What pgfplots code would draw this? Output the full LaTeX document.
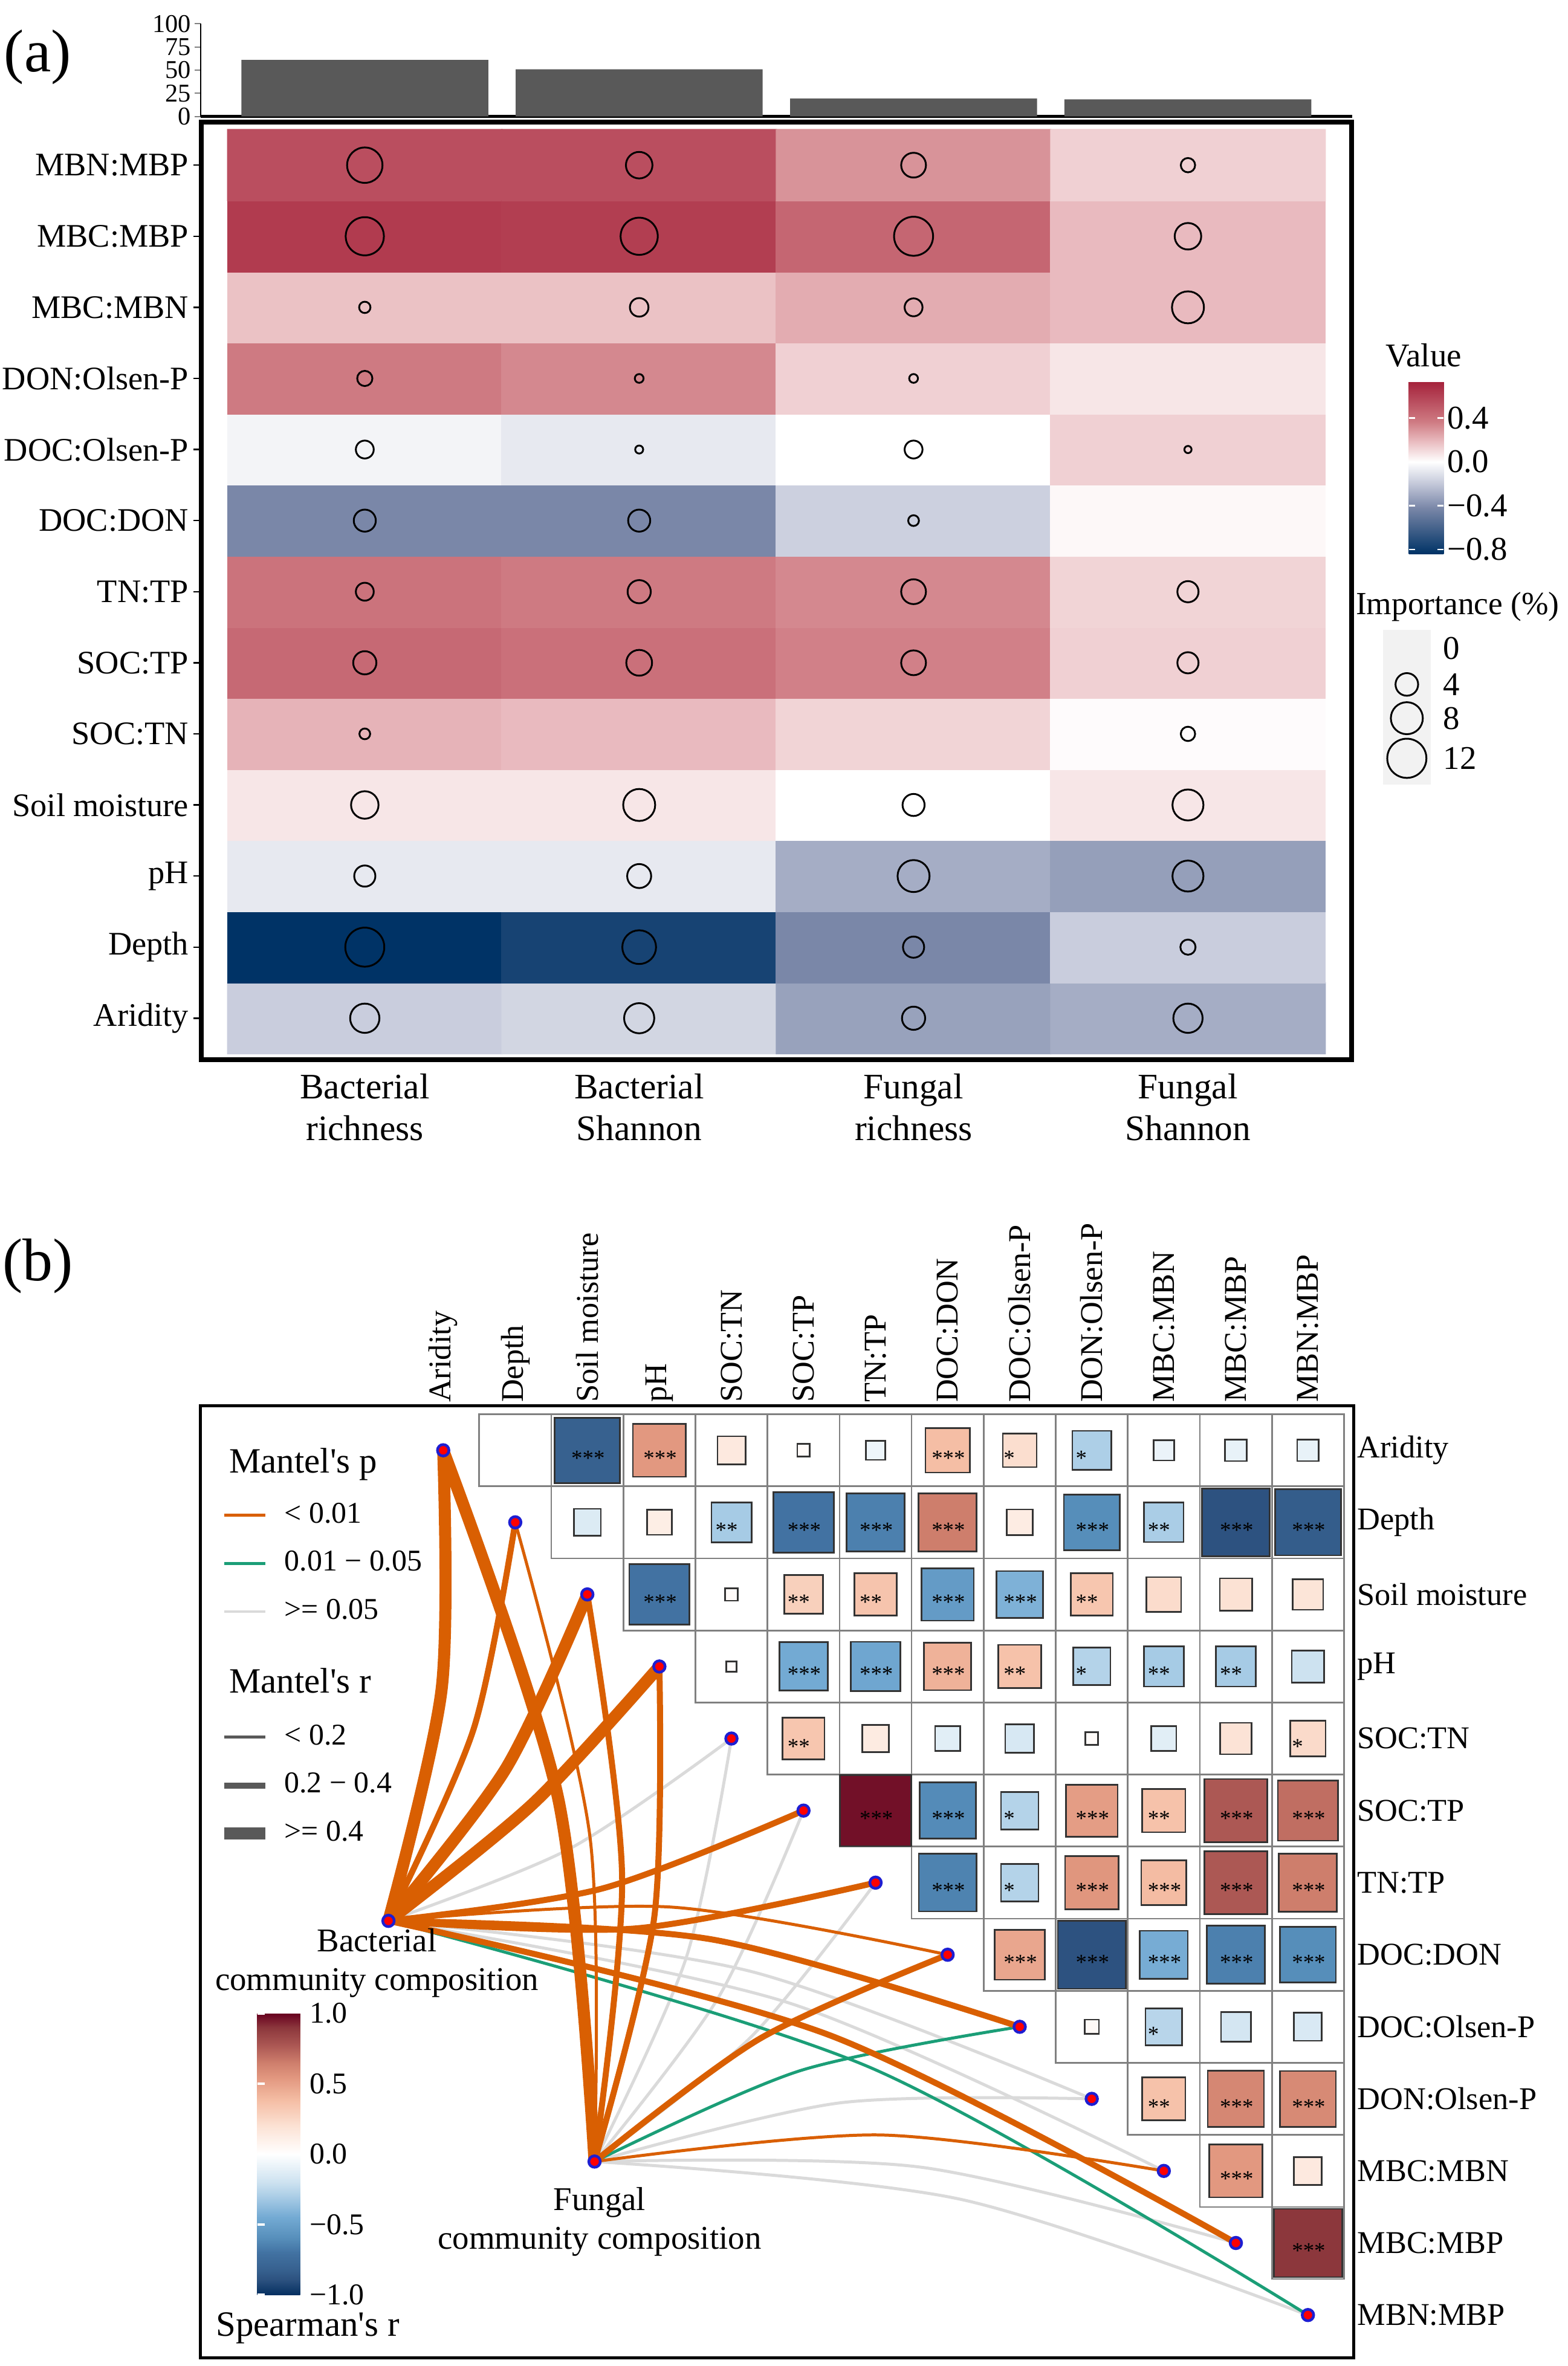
\documentclass[border=0pt]{standalone}
\usepackage{fontspec}
\setmainfont{Liberation Serif}
\usepackage{pgfplots}
\pgfplotsset{compat=1.18}
\usepackage{pgfplotstable}

\definecolor{barfill}{RGB}{89,89,89}
\definecolor{morange}{RGB}{217,95,2}
\definecolor{mgreen}{RGB}{27,158,119}
\definecolor{mgray}{RGB}{218,218,218}
\definecolor{nodeblue}{RGB}{30,30,210}
\definecolor{cellgray}{RGB}{128,128,128}
\definecolor{legbox}{RGB}{242,242,242}

\newcommand\fA{\fontsize{10.9}{12}\selectfont}
\newcommand\fX{\fontsize{11.9}{14}\selectfont}
\newcommand\fT{\fontsize{8.5}{8.5}\selectfont}
\newcommand\fL{\fontsize{11}{13}\selectfont}
\newcommand\fI{\fontsize{10.7}{13}\selectfont}
\newcommand\fB{\fontsize{10.5}{12}\selectfont}
\newcommand\fS{\fontsize{7.4}{8}\selectfont}
\newcommand\fM{\fontsize{11.8}{13}\selectfont}
\newcommand\fE{\fontsize{10}{12}\selectfont}
\newcommand\fC{\fontsize{11}{12.8}\selectfont}
\newcommand\fP{\fontsize{20}{22}\selectfont}

\pgfplotsset{
  /pgf/number format/assume math mode=true,
  edge/.style={smooth, no marks, line cap=butt},
  eGray/.style={edge, mgray, line width=1pt},
  eGreen/.style={edge, mgreen, line width=1pt},
  eThin/.style={edge, morange, line width=1pt},
  eMed/.style={edge, morange, line width=2pt},
  eThick/.style={edge, morange, line width=4pt},
  stars/.style={only marks, mark=none, point meta=none,
    nodes near coords={#1},
    nodes near coords style={font=\fS, anchor=west, xshift=-5.5pt, yshift=-2.6pt, inner sep=0pt, text=black}},
}

% heatmap of panel (a): x = response, y = predictor, v = value, imp = importance (%)
\pgfplotstableread{
x y v imp
0 0 -0.18 6.7
1 0 -0.15 7.1
2 0 -0.33 4.2
3 0 -0.29 6.7
0 1 -0.84 11.9
1 1 -0.76 8.9
2 1 -0.42 3.5
3 1 -0.18 1.8
0 2 -0.08 3.5
1 2 -0.08 4.5
2 2 -0.29 8.0
3 2 -0.34 7.5
0 3 0.07 5.9
1 3 0.07 8.0
2 3 0.00 3.8
3 3 0.07 7.5
0 4 0.21 0.9
1 4 0.19 0
2 4 0.12 0
3 4 0.01 1.6
0 5 0.44 4.2
1 5 0.41 5.2
2 5 0.35 4.8
3 5 0.13 3.5
0 6 0.40 2.5
1 6 0.37 4.2
2 6 0.33 4.8
3 6 0.12 3.5
0 7 -0.42 3.8
1 7 -0.42 3.8
2 7 -0.17 0.9
3 7 0.02 0
0 8 -0.04 2.5
1 8 -0.08 0.5
2 8 0.00 2.5
3 8 0.13 0.4
0 9 0.37 1.8
1 9 0.33 0.6
2 9 0.13 0.6
3 9 0.07 0
0 10 0.17 1.0
1 10 0.17 2.7
2 10 0.23 2.5
3 10 0.19 8.0
0 11 0.63 11.4
1 11 0.62 10.8
2 11 0.45 11.9
3 11 0.19 5.5
0 12 0.55 9.8
1 12 0.55 5.5
2 12 0.30 4.8
3 12 0.13 1.6
}\heattab

\pgfplotstableread{
x imp
0 61
1 51
2 19.5
3 18.5
}\bartab

\pgfplotstableread{
y imp
430 0
454 4
476.4 8
503 12
}\imptab

% panel (b): c = column, r = row, v = Spearman r, s = number of stars
\pgfplotstableread{
c r v s
1 0 0.00 0
2 0 -0.82 3
3 0 0.54 3
4 0 0.15 0
5 0 0.03 0
6 0 -0.07 0
7 0 0.38 3
8 0 0.22 1
9 0 -0.29 1
10 0 -0.08 0
11 0 -0.09 0
12 0 -0.09 0
2 1 -0.14 0
3 1 0.12 0
4 1 -0.31 2
5 1 -0.70 3
6 1 -0.65 3
7 1 0.65 3
8 1 0.13 0
9 1 -0.60 3
10 1 -0.30 2
11 1 -0.89 3
12 1 -0.84 3
3 2 -0.70 3
4 2 0.03 0
5 2 0.29 2
6 2 0.35 2
7 2 -0.53 3
8 2 -0.42 3
9 2 0.34 2
10 2 0.23 0
11 2 0.20 0
12 2 0.18 0
4 3 0.02 0
5 3 -0.45 3
6 3 -0.47 3
7 3 0.43 3
8 3 0.36 2
9 3 -0.27 1
10 3 -0.31 2
11 3 -0.31 2
12 3 -0.20 0
5 4 0.34 2
6 4 0.14 0
7 4 -0.12 0
8 4 -0.16 0
9 4 0.03 0
10 4 -0.12 0
11 4 0.19 0
12 4 0.24 1
6 5 0.97 3
7 5 -0.61 3
8 5 -0.27 1
9 5 0.52 3
10 5 0.36 2
11 5 0.77 3
12 5 0.70 3
7 6 -0.64 3
8 6 -0.27 1
9 6 0.55 3
10 6 0.39 3
11 6 0.77 3
12 6 0.65 3
8 7 0.48 3
9 7 -0.89 3
10 7 -0.44 3
11 7 -0.65 3
12 7 -0.60 3
9 8 0.04 0
10 8 -0.26 1
11 8 -0.17 0
12 8 -0.15 0
10 9 0.36 2
11 9 0.61 3
12 9 0.60 3
11 10 0.54 3
12 10 0.15 0
12 11 0.90 3
}\corrtab

\pgfplotstableread{
u v
0 0
1 -1
2 -2
3 -3
4 -4
5 -5
6 -6
7 -7
8 -8
9 -9
10 -10
11 -11
12 -12
-0.76 -6.53
2.10 -9.87
}\nodetab

\begin{document}
\begin{tikzpicture}
\useasboundingbox (0,0) rectangle (520pt,784.7pt);

\node[font=\fP] at (12.5pt,765.7pt) {(a)};
\node[font=\fP] at (12.5pt,364.7pt) {(b)};

% ---------- bar chart on top of (a)
\begin{axis}[
  at={(66.5pt,746.05pt)}, anchor=south west,
  scale only axis, width=382pt, height=30.75pt,
  xmin=-0.599, xmax=3.599, ymin=0, ymax=100,
  axis x line*=bottom, axis y line*=left,
  x axis line style={line width=1pt,-},
  y axis line style={line width=0.4pt,-},
  xtick=\empty,
  ytick={0,25,50,75,100},
  yticklabel style={font=\fT, inner sep=1pt},
  tick align=outside, major tick length=2pt,
  ytick style={line width=0.4pt},
]
\addplot[ybar, bar width=0.9, fill=barfill, draw=none] table[x=x,y=imp]{\bartab};
\end{axis}

% ---------- heatmap of (a)
\begin{axis}[
  name=hm, at={(66.75pt,433.2pt)}, anchor=south west,
  scale only axis, width=381.5pt, height=311pt,
  xmin=-0.596, xmax=3.596, ymin=-0.585, ymax=12.606,
  axis line style={line width=1.5pt},
  xtick={0,1,2,3},
  xticklabels={{Bacterial\\richness},{Bacterial\\Shannon},{Fungal\\richness},{Fungal\\Shannon}},
  xticklabel style={align=center, font=\fX, yshift=1.5pt},
  xtick style={draw=none},
  ytick={0,...,12},
  yticklabels={Aridity,Depth,pH,Soil moisture,SOC:TN,SOC:TP,TN:TP,DOC:DON,DOC:Olsen-P,DON:Olsen-P,MBC:MBN,MBC:MBP,MBN:MBP},
  yticklabel style={font=\fA, inner sep=1.5pt},
  ytick pos=left, tick align=outside, major tick length=2.5pt,
  ytick style={line width=0.5pt, black},
  colormap={heat}{rgb255(0pt)=(0,51,102) rgb255(42pt)=(122,135,168) rgb255(63pt)=(192,197,215) rgb255(84pt)=(255,255,255) rgb255(102pt)=(234,190,194) rgb255(120.5pt)=(207,123,131) rgb255(157pt)=(165,35,60)},
  point meta min=-0.84, point meta max=0.73,
  colorbar,
  colorbar style={
    at={(parent axis.north east)}, anchor=north west,
    xshift=10.45pt, yshift=-86.2pt,
    scale only axis, width=11.6pt, height=57pt,
    ytick={-0.8,-0.4,0,0.4}, yticklabels={−0.8,−0.4,0.0,0.4},
    yticklabel style={font=\fL, inner sep=1pt},
    axis line style={draw=none},
    tick align=inside, major tick length=2pt,
    ytick style={white, line width=0.6pt},
    ytick pos=both, yticklabel pos=right,
  },
]
\addplot[matrix plot*, mesh/cols=4, point meta=explicit] table[x=x,y=y,meta=v]{\heattab};
\addplot[scatter, only marks, mark=o, point meta=explicit,
  scatter/use mapped color={draw=black},
  mark options={line width=0.6pt},
  restrict expr to domain={\thisrow{imp}}{0.01:100},
  visualization depends on={1.875*sqrt(\thisrow{imp}) \as \msize},
  scatter/@pre marker code/.append style={/tikz/mark size=\msize}]
  table[x=x,y=y,meta=v]{\heattab};
\end{axis}

\node[anchor=base west, font=\fL, inner sep=0pt] at (459.5pt,663.1pt) {Value};
\node[anchor=base west, font=\fI, inner sep=0pt] at (449.5pt,580.8pt) {Importance (\%)};

% ---------- importance legend
\begin{axis}[
  at={(458.7pt,524.45pt)}, anchor=south west,
  scale only axis, width=15.8pt, height=51.25pt,
  xmin=0, xmax=1, ymin=418, ymax=520.5, y dir=reverse,
  axis line style={draw=none}, ticks=none,
  axis background/.style={fill=legbox},
  clip=false,
]
\addplot[scatter, only marks, mark=o, point meta=explicit,
  scatter/use mapped color={draw=black},
  mark options={line width=0.6pt},
  restrict expr to domain={\thisrow{imp}}{0.01:100},
  visualization depends on={1.875*sqrt(\thisrow{imp}) \as \msize},
  scatter/@pre marker code/.append style={/tikz/mark size=\msize}]
  table[x expr=0.5, y=y, meta=imp]{\imptab};
\addplot[only marks, mark=none, point meta=explicit symbolic,
  nodes near coords,
  nodes near coords style={anchor=west, xshift=11.9pt, inner sep=0pt, font=\fL}]
  table[x expr=0.5, y=y, meta=imp]{\imptab};
\end{axis}

% ---------- panel (b)
\begin{axis}[
  at={(66.5pt,2.7pt)}, anchor=south west,
  scale only axis, width=382.5pt, height=315.7pt,
  xmin=-3.368, xmax=12.636, ymin=-12.594, ymax=0.615,
  axis line style={line width=1pt},
  xtick={0,...,12}, ytick={0,-1,...,-12},
  xticklabels={Aridity,Depth,Soil moisture,pH,SOC:TN,SOC:TP,TN:TP,DOC:DON,DOC:Olsen-P,DON:Olsen-P,MBC:MBN,MBC:MBP,MBN:MBP},
  yticklabels={Aridity,Depth,Soil moisture,pH,SOC:TN,SOC:TP,TN:TP,DOC:DON,DOC:Olsen-P,DON:Olsen-P,MBC:MBN,MBC:MBP,MBN:MBP},
  xticklabel pos=right, yticklabel pos=right,
  major tick length=0pt,
  xticklabel style={rotate=90, anchor=west, font=\fB, inner sep=1pt},
  yticklabel style={anchor=west, font=\fB, inner sep=1pt},
  colormap={spear}{rgb255(0pt)=(5,48,97) rgb255(11pt)=(45,82,128) rgb255(18pt)=(55,97,143) rgb255(30pt)=(66,114,162) rgb255(40pt)=(86,142,186) rgb255(55pt)=(115,170,211) rgb255(70pt)=(170,205,230) rgb255(80pt)=(205,226,240) rgb255(100pt)=(255,255,255) rgb255(120pt)=(252,226,212) rgb255(138pt)=(245,190,165) rgb255(154pt)=(226,152,128) rgb255(165pt)=(206,126,108) rgb255(177pt)=(172,88,84) rgb255(190pt)=(140,55,60) rgb255(200pt)=(103,0,31)},
  point meta min=-1, point meta max=1,
  colorbar,
  colorbar style={
    at={(parent axis.south west)}, anchor=north west,
    xshift=10.3pt, yshift=114.25pt,
    scale only axis, width=18.7pt, height=93.35pt,
    ytick={-1,-0.5,0,0.5,1}, yticklabels={−1.0,−0.5,0.0,0.5,1.0},
    yticklabel style={font=\fE, inner sep=1pt, xshift=-2.5pt},
    axis line style={draw=none},
    tick align=inside, major tick length=2.5pt,
    ytick style={white, line width=0.8pt},
    ytick pos=both, yticklabel pos=right,
  },
]
% grid cells
\addplot[only marks, mark=square, mark size=11.95pt, point meta=none,
  mark options={draw=cellgray, line width=0.55pt}]
  table[x=c, y expr=-\thisrow{r}]{\corrtab};
% correlation squares
\addplot[scatter, only marks, mark=square*, point meta=explicit,
  scatter/use mapped color={draw=black!80, fill=mapped color},
  mark options={line width=0.55pt},
  restrict expr to domain={abs(\thisrow{v})}{0.005:2},
  visualization depends on={11.95*sqrt(abs(\thisrow{v})) \as \hs},
  scatter/@pre marker code/.append style={/tikz/mark size=\hs}]
  table[x=c, y expr=-\thisrow{r}, meta=v]{\corrtab};
% stars
\addplot[stars={*}, restrict expr to domain={\thisrow{s}}{0.5:1.5}]
  table[x=c, y expr=-\thisrow{r}]{\corrtab};
\addplot[stars={**}, restrict expr to domain={\thisrow{s}}{1.5:2.5}]
  table[x=c, y expr=-\thisrow{r}]{\corrtab};
\addplot[stars={***}, restrict expr to domain={\thisrow{s}}{2.5:3.5}]
  table[x=c, y expr=-\thisrow{r}]{\corrtab};

% Mantel edges: community node, bend point, variable node
\addplot[eGray] coordinates {(-0.76,-6.53) (1.759,-5.527) (4,-4)};
\addplot[eGray] coordinates {(-0.76,-6.53) (4.256,-7.228) (9,-9)};
\addplot[eGray] coordinates {(-0.76,-6.53) (4.811,-7.673) (10,-10)};
\addplot[eGray] coordinates {(2.10,-9.87) (3.373,-7.040) (4,-4)};
\addplot[eGray] coordinates {(2.10,-9.87) (3.818,-7.595) (5,-5)};
\addplot[eGray] coordinates {(2.10,-9.87) (4.263,-8.150) (6,-6)};
\addplot[eGray] coordinates {(2.10,-9.87) (5.502,-9.056) (9,-9)};
\addplot[eGray] coordinates {(2.10,-9.87) (6.612,-9.946) (11,-11)};
\addplot[eGray] coordinates {(2.10,-9.87) (7.167,-10.391) (12,-12)};
\addplot[eGreen] coordinates {(-0.76,-6.53) (5.921,-8.563) (12,-12)};
\addplot[eGreen] coordinates {(2.10,-9.87) (4.947,-8.611) (8,-8)};
\addplot[eThin] coordinates {(-0.76,-6.53) (3.146,-6.338) (7,-7)};
\addplot[eThin] coordinates {(2.10,-9.87) (2.038,-5.375) (1,-1)};
\addplot[eThin] coordinates {(2.10,-9.87) (6.057,-9.501) (10,-10)};
\addplot[eMed] coordinates {(-0.76,-6.53) (0.424,-3.862) (1,-1)};
\addplot[eMed] coordinates {(-0.76,-6.53) (2.204,-6.082) (5,-5)};
\addplot[eMed] coordinates {(-0.76,-6.53) (2.649,-6.637) (6,-6)};
\addplot[eMed] coordinates {(-0.76,-6.53) (3.701,-6.783) (8,-8)};
\addplot[eMed] coordinates {(-0.76,-6.53) (5.366,-8.118) (11,-11)};
\addplot[eMed] coordinates {(2.10,-9.87) (2.483,-5.930) (2,-2)};
\addplot[eMed] coordinates {(2.10,-9.87) (2.928,-6.485) (3,-3)};
\addplot[eMed] coordinates {(2.10,-9.87) (4.392,-8.166) (7,-7)};
\addplot[eThick] coordinates {(-0.76,-6.53) (-0.021,-3.307) (0,0)};
\addplot[eThick] coordinates {(-0.76,-6.53) (0.869,-4.417) (2,-2)};
\addplot[eThick] coordinates {(-0.76,-6.53) (1.250,-4.900) (3,-3)};
\addplot[eThick] coordinates {(2.10,-9.87) (1.593,-4.819) (0,0)};

% nodes
\addplot[only marks, mark=*, mark size=1.9pt,
  mark options={draw=nodeblue, fill=red, line width=0.9pt}]
  table[x=u, y=v]{\nodetab};

\node[anchor=north, align=center, font=\fC, inner sep=0pt] at (axis cs:-0.92,-6.63) {Bacterial\\community composition};
\node[anchor=north, align=center, font=\fC, inner sep=0pt] at (axis cs:2.17,-10.22) {Fungal\\community composition};
\node[anchor=base west, font=\fM, inner sep=0pt] at (rel axis cs:0.0245,0.9297) {Mantel\textquotesingle s p};
\node[anchor=base west, font=\fM, inner sep=0pt] at (rel axis cs:0.0245,0.6984) {Mantel\textquotesingle s r};
\node[anchor=base west, font=\fM, inner sep=0pt] at (rel axis cs:0.013,0.0228) {Spearman\textquotesingle s r};
\end{axis}

% legend for Mantel's p
\begin{axis}[
  at={(66.5pt,2.7pt)}, anchor=south west,
  scale only axis, width=382.5pt, height=315.7pt,
  hide axis, xmin=0, xmax=1, ymin=0, ymax=1,
  legend style={at={(0.019,0.9064)}, anchor=north west, draw=none, fill=none,
    inner sep=0pt, row sep=3pt, column sep=5pt, font=\fE,
    nodes={inner sep=1pt, text height=8pt, text depth=3pt}},
  legend cell align=left,
  legend image code/.code={\draw[#1] (0pt,0pt) -- (13.5pt,0pt);},
]
\addlegendimage{morange, line width=0.9pt}
\addlegendentry{< 0.01}
\addlegendimage{mgreen, line width=0.9pt}
\addlegendentry{0.01 − 0.05}
\addlegendimage{mgray, line width=0.9pt}
\addlegendentry{>= 0.05}
\end{axis}

% legend for Mantel's r
\begin{axis}[
  at={(66.5pt,2.7pt)}, anchor=south west,
  scale only axis, width=382.5pt, height=315.7pt,
  hide axis, xmin=0, xmax=1, ymin=0, ymax=1,
  legend style={at={(0.015,0.6733)}, anchor=north west, draw=none, fill=none,
    inner sep=0pt, row sep=3pt, column sep=3.4pt, font=\fE,
    nodes={inner sep=1pt, text height=8pt, text depth=3pt}},
  legend cell align=left,
  legend image code/.code={\draw[#1] (0pt,0pt) -- (13.5pt,0pt);},
]
\addlegendimage{black!65, line width=1pt}
\addlegendentry{< 0.2}
\addlegendimage{black!65, line width=2pt}
\addlegendentry{0.2 − 0.4}
\addlegendimage{black!65, line width=4pt}
\addlegendentry{>= 0.4}
\end{axis}
\end{tikzpicture}
\end{document}
